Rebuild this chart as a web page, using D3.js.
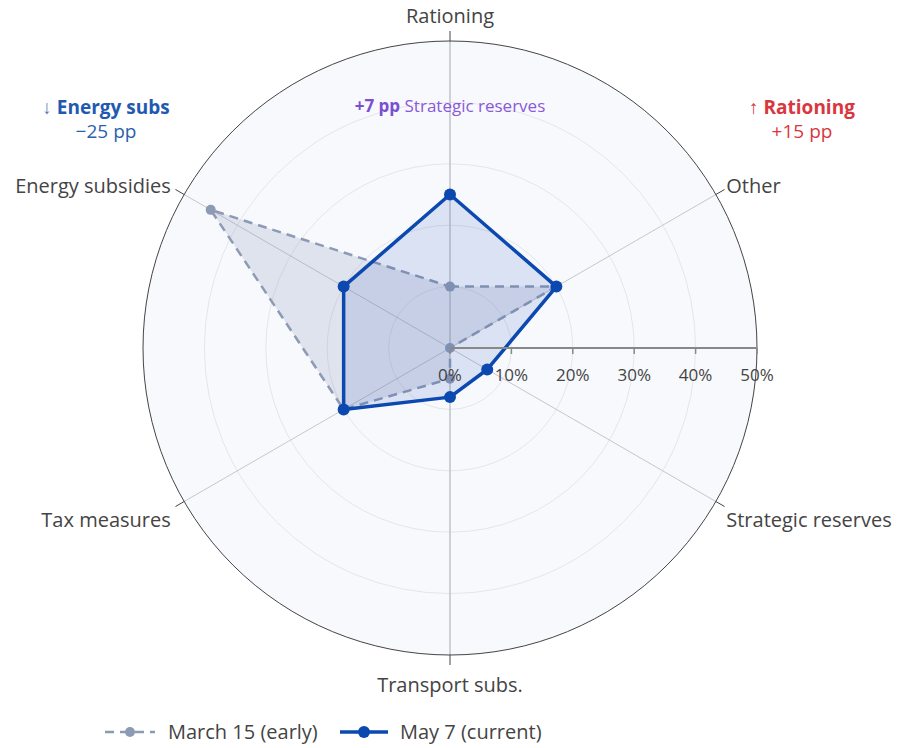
<!DOCTYPE html>
<html><head><meta charset="utf-8">
<script src="https://cdn.jsdelivr.net/npm/d3@7"></script>
<style>body{margin:0;background:#fff;} svg{display:block;font-family:"Open Sans",sans-serif;}</style>
</head><body>
<svg id="c" width="903" height="748"></svg>
<script>
const categories = ["Rationing","Other","Strategic reserves","Transport subs.","Tax measures","Energy subsidies"];
const march = [10,20,0,5,20,45];
const may = [25,20,7,8,20,20];
const radialTicks = [0,10,20,30,40,50];
const seriesNames = ["March 15 (early)","May 7 (current)"];

const svg = d3.select("#c");
const cx = 450, cy = 348, R = 307;
const r = d3.scaleLinear().domain([0,50]).range([0,R]);
const ang = d3.scalePoint().domain(categories).range([0, 300]);  // degrees clockwise from top
const pt = (deg, v) => { const a = deg*Math.PI/180; return [cx + r(v)*Math.sin(a), cy - r(v)*Math.cos(a)]; };

const g = svg.append("g");
g.append("circle").attr("cx",cx).attr("cy",cy).attr("r",R).attr("fill","#f7f9fd");
radialTicks.slice(1,-1).forEach(t=>{
  g.append("circle").attr("cx",cx).attr("cy",cy).attr("r",r(t)).attr("fill","none").attr("stroke","#e4e6ea").attr("stroke-width",1);
});
categories.forEach(c=>{
  const [x,y]=pt(ang(c),50);
  g.append("line").attr("x1",cx).attr("y1",cy).attr("x2",x).attr("y2",y).attr("stroke","#c4c7cc").attr("stroke-width",(c==="Rationing"||c==="Transport subs.")?1.6:1);
});
g.append("circle").attr("cx",cx).attr("cy",cy).attr("r",R).attr("fill","none").attr("stroke","#444").attr("stroke-width",1);
categories.forEach(c=>{
  const d=ang(c);
  const [x1,y1]=pt(d,50); const a=d*Math.PI/180;
  const x2=cx+(R+10)*Math.sin(a), y2=cy-(R+10)*Math.cos(a);
  g.append("line").attr("x1",x1).attr("y1",y1).attr("x2",x2).attr("y2",y2).attr("stroke","#444").attr("stroke-width",1);
  const lx=cx+(R+12)*Math.sin(a), ly=cy-(R+12)*Math.cos(a);
  let anchor="middle", dy;
  if (Math.sin(a)>0.1) { anchor="start"; } else if (Math.sin(a)<-0.1) { anchor="end"; }
  const cosA = Math.cos(a);
  if (Math.abs(Math.sin(a))<0.1) dy = cosA>0 ? -6 : 25;
  else dy = cosA>0 ? 4 : 19;
  g.append("text").attr("x",lx - (anchor==="end"?3:0)).attr("y",ly+dy).attr("text-anchor",anchor)
    .attr("font-size",20).attr("fill","#444").text(c);
});

const line = d3.line().curve(d3.curveLinearClosed);
function drawSeries(vals, stroke, fill, dash, width, mr){
  const pts = categories.map((c,i)=>pt(ang(c), vals[i]));
  g.append("path").attr("d", line(pts)).attr("fill",fill).attr("stroke",stroke).attr("stroke-width",width)
   .attr("stroke-dasharray",dash).attr("stroke-linejoin","round");
  pts.forEach(p=>g.append("circle").attr("cx",p[0]).attr("cy",p[1]).attr("r",mr).attr("fill",stroke));
}
drawSeries(march, "#8d9ab5", "rgba(140,152,184,0.22)", "9,6", 2.5, 5);
drawSeries(may, "#0b48b0", "rgba(30,80,180,0.13)", null, 3.5, 6);

g.append("line").attr("x1",cx).attr("y1",cy).attr("x2",cx+R).attr("y2",cy).attr("stroke","#888").attr("stroke-width",2);
radialTicks.forEach(t=>{
  g.append("line").attr("x1",cx+r(t)).attr("x2",cx+r(t)).attr("y1",cy).attr("y2",cy+6).attr("stroke","#888").attr("stroke-width",1.5);
  g.append("text").attr("x",cx+r(t)).attr("y",cy+33).attr("text-anchor","middle").attr("font-size",17).attr("fill","#444").text(t+"%");
});

const a1 = svg.append("text").attr("x",106).attr("y",114).attr("text-anchor","middle").attr("font-size",19);
a1.append("tspan").attr("fill","#5a7fb8").text("↓ ");
a1.append("tspan").attr("fill","#1f5ab0").attr("font-weight","bold").text("Energy subs");
svg.append("text").attr("x",106).attr("y",138).attr("text-anchor","middle").attr("font-size",19).attr("fill","#2a5fae").text("−25 pp");

const a2 = svg.append("text").attr("x",802).attr("y",114).attr("text-anchor","middle").attr("font-size",19);
a2.append("tspan").attr("fill","#d9363e").text("↑ ");
a2.append("tspan").attr("fill","#d9363e").attr("font-weight","bold").text("Rationing");
svg.append("text").attr("x",802).attr("y",138).attr("text-anchor","middle").attr("font-size",19).attr("fill","#d9363e").text("+15 pp");

const a3 = svg.append("text").attr("x",450).attr("y",112).attr("text-anchor","middle").attr("font-size",17);
a3.append("tspan").attr("fill","#7a4fd0").attr("font-weight","bold").text("+7 pp ");
a3.append("tspan").attr("fill","#8a5ad8").text("Strategic reserves");

const lg = svg.append("g");
lg.append("line").attr("x1",105).attr("x2",155).attr("y1",732).attr("y2",732).attr("stroke","#8d9ab5").attr("stroke-width",2.5).attr("stroke-dasharray","9,6");
lg.append("circle").attr("cx",130).attr("cy",732).attr("r",5).attr("fill","#8d9ab5");
lg.append("text").attr("x",168).attr("y",732).attr("dy","0.35em").attr("font-size",20).attr("fill","#444").text(seriesNames[0]);
lg.append("line").attr("x1",340).attr("x2",388).attr("y1",732).attr("y2",732).attr("stroke","#0b48b0").attr("stroke-width",3.5);
lg.append("circle").attr("cx",364).attr("cy",732).attr("r",6).attr("fill","#0b48b0");
lg.append("text").attr("x",400).attr("y",732).attr("dy","0.35em").attr("font-size",20).attr("fill","#444").text(seriesNames[1]);
</script>
</body></html>
